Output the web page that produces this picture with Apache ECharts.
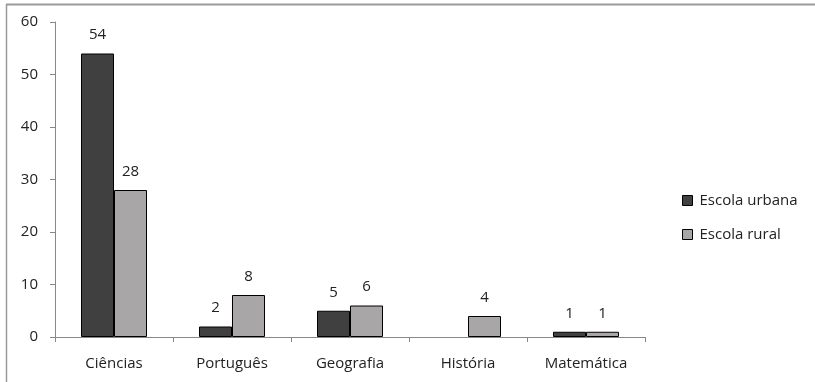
<!DOCTYPE html>
<html>
<head>
<meta charset="utf-8">
<script src="https://cdn.jsdelivr.net/npm/echarts@6/dist/echarts.min.js"></script>
<style>
  html, body { margin: 0; padding: 0; background: #fff; }
  #chart { width: 815px; height: 382px; }
</style>
</head>
<body>
<div id="chart"></div>
<script>
// Disciplinas e número de respostas por tipo de escola
const categories = ['Ciências', 'Português', 'Geografia', 'História', 'Matemática'];
const urbana = [54, 2, 5, null, 1];
const rural = [28, 8, 6, 4, 1];
const seriesNames = ['Escola urbana', 'Escola rural'];
const yTicks = { min: 0, max: 60, interval: 10 };

const FONT = '"Open Sans", "Noto Sans", sans-serif';
const FS = 15;
const chart = echarts.init(document.getElementById('chart'));

const labelStyle = {
  show: true,
  position: 'top',
  distance: 11,
  color: '#222',
  fontFamily: FONT,
  fontSize: FS
};

chart.setOption({
  animation: false,
  backgroundColor: '#fff',
  graphic: [
    { type: 'line', shape: { x1: 6, y1: 4.5, x2: 815, y2: 4.5 }, style: { stroke: '#9a9a9a', lineWidth: 2 } },
    { type: 'line', shape: { x1: 6.5, y1: 4, x2: 6.5, y2: 382 }, style: { stroke: '#9a9a9a', lineWidth: 1.5 } }
  ],
  grid: { left: 55, right: 170, top: 22, bottom: 45 },
  legend: {
    orient: 'vertical',
    left: 677,
    top: 188,
    itemWidth: 10,
    itemHeight: 10,
    itemGap: 19,
    icon: 'rect',
    itemStyle: { borderColor: '#000', borderWidth: 1 },
    textStyle: { fontFamily: FONT, fontSize: FS, color: '#222', padding: [0, 0, 0, 2] },
    data: seriesNames
  },
  xAxis: {
    type: 'category',
    data: categories,
    axisLine: { lineStyle: { color: '#888' } },
    axisTick: { show: true, length: 5, lineStyle: { color: '#888' } },
    axisLabel: { color: '#222', fontFamily: FONT, fontSize: FS, margin: 19 }
  },
  yAxis: {
    type: 'value',
    min: yTicks.min,
    max: yTicks.max,
    interval: yTicks.interval,
    splitLine: { show: false },
    axisLine: { show: true, lineStyle: { color: '#888' } },
    axisTick: { show: true, length: 5, lineStyle: { color: '#888' } },
    axisLabel: { color: '#222', fontFamily: FONT, fontSize: FS, margin: 17 }
  },
  series: [
    {
      name: seriesNames[0],
      type: 'bar',
      data: urbana,
      barWidth: 33,
      barGap: '0%',
      itemStyle: { color: '#404040', borderColor: '#000', borderWidth: 1 },
      label: labelStyle
    },
    {
      name: seriesNames[1],
      type: 'bar',
      data: rural,
      barWidth: 33,
      barGap: '0%',
      itemStyle: { color: '#a8a6a6', borderColor: '#000', borderWidth: 1 },
      label: labelStyle
    }
  ]
});
</script>
</body>
</html>
